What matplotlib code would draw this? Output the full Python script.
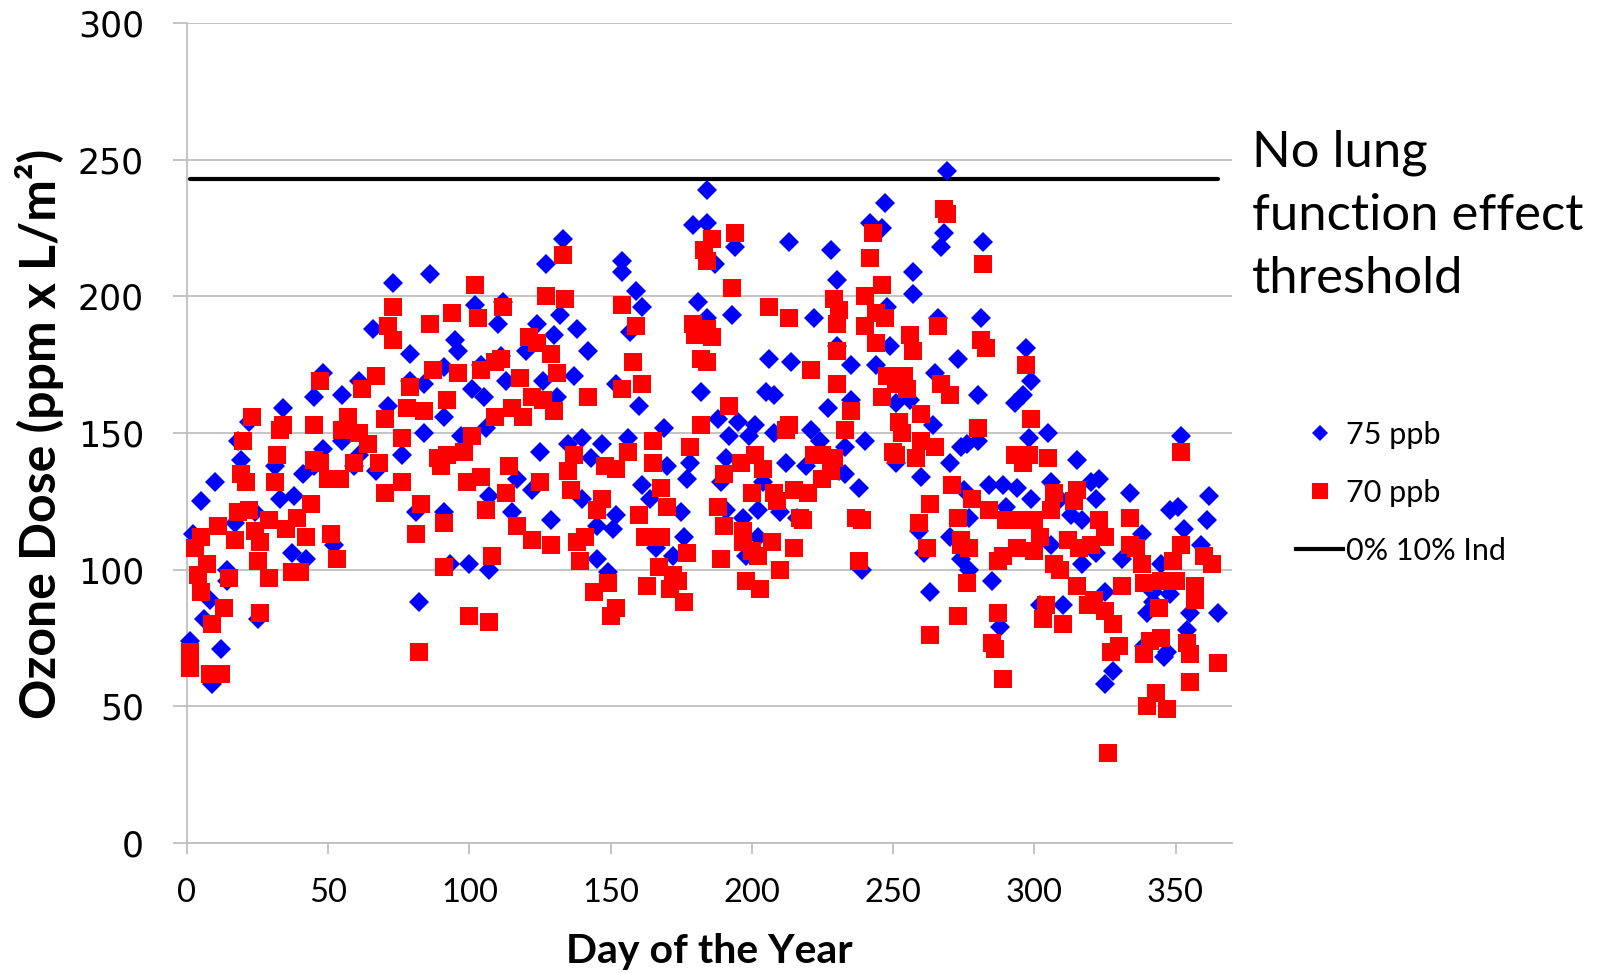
import matplotlib
matplotlib.use("Agg")
import matplotlib.pyplot as plt
from matplotlib.lines import Line2D

# Daily ozone dose, 75 ppb scenario
days_75 = [1, 2, 5, 6, 8, 9, 10, 12, 14, 14, 17, 18, 19, 22, 24, 25, 31, 33, 34, 37,
           38, 41, 42, 45, 45, 48, 48, 52, 55, 55, 59, 61, 61, 66, 67, 71, 73, 76, 79, 79,
           81, 82, 84, 84, 86, 91, 91, 91, 93, 95, 96, 97, 100, 101, 102, 104, 105, 106, 107, 107,
           110, 111, 112, 113, 115, 117, 120, 122, 124, 125, 126, 127, 129, 130, 131, 132, 133, 135, 137, 138,
           140, 140, 142, 143, 145, 145, 147, 149, 151, 152, 152, 154, 154, 156, 157, 159, 160, 161, 161, 164,
           166, 169, 170, 172, 175, 176, 177, 178, 179, 181, 182, 184, 184, 184, 187, 188, 189, 191, 191, 192,
           193, 194, 195, 197, 198, 199, 201, 202, 202, 204, 205, 206, 208, 208, 210, 212, 213, 214, 216, 219,
           221, 222, 224, 227, 228, 230, 231, 230, 233, 233, 235, 235, 238, 239, 240, 242, 244, 246, 247, 248,
           249, 251, 251, 256, 257, 257, 259, 260, 261, 263, 264, 265, 266, 267, 268, 269, 270, 270, 273, 274,
           274, 275, 276, 277, 277, 280, 280, 281, 282, 284, 285, 288, 289, 290, 293, 294, 296, 297, 298, 299,
           299, 302, 305, 306, 306, 309, 310, 313, 315, 317, 317, 320, 322, 322, 323, 325, 325, 328, 331, 334,
           338, 339, 340, 342, 342, 345, 346, 347, 348, 348, 351, 352, 353, 354, 355, 359, 361, 362, 365]
dose_75 = [74, 113, 125, 82, 89, 58, 132, 71, 100, 96, 117, 147, 140, 154, 121, 82, 138, 126, 159, 106,
           127, 135, 104, 163, 138, 172, 144, 109, 164, 147, 138, 169, 142, 188, 136, 160, 205, 142, 179, 169,
           121, 88, 168, 150, 208, 174, 121, 156, 102, 184, 180, 149, 102, 166, 197, 175, 163, 152, 100, 127,
           190, 178, 198, 169, 121, 133, 180, 129, 190, 143, 169, 212, 118, 186, 163, 193, 221, 146, 171, 188,
           148, 126, 180, 141, 116, 104, 146, 99, 115, 168, 120, 213, 209, 148, 187, 202, 160, 196, 131, 126,
           108, 152, 138, 105, 121, 112, 133, 139, 226, 198, 165, 239, 227, 192, 212, 155, 132, 141, 122, 149,
           193, 218, 154, 119, 105, 149, 153, 122, 112, 132, 165, 177, 150, 164, 121, 139, 220, 176, 119, 138,
           151, 192, 147, 159, 217, 206, 136, 182, 145, 135, 175, 162, 130, 100, 147, 227, 175, 225, 234, 196,
           182, 161, 139, 162, 201, 209, 114, 134, 106, 92, 153, 172, 192, 218, 223, 246, 139, 112, 177, 145,
           104, 129, 146, 119, 100, 164, 147, 192, 220, 131, 96, 79, 131, 123, 161, 130, 164, 181, 148, 169,
           126, 87, 150, 132, 109, 126, 87, 120, 140, 118, 102, 132, 126, 106, 133, 92, 58, 63, 104, 128,
           113, 72, 84, 92, 88, 102, 68, 70, 122, 91, 123, 149, 115, 78, 84, 109, 118, 127, 84]

# Daily ozone dose, 70 ppb scenario
days_70 = [1, 1, 3, 4, 5, 5, 7, 8, 9, 11, 12, 13, 15, 17, 18, 19, 20, 21, 22, 23,
           24, 25, 26, 26, 29, 29, 31, 32, 33, 34, 35, 37, 39, 40, 42, 44, 45, 45, 47, 47,
           50, 51, 53, 54, 55, 57, 59, 61, 62, 64, 67, 68, 70, 70, 71, 73, 73, 76, 76, 78,
           79, 81, 82, 83, 84, 86, 87, 89, 90, 91, 91, 92, 92, 94, 96, 98, 99, 100, 101, 102,
           103, 104, 104, 106, 107, 108, 109, 109, 111, 112, 113, 114, 115, 117, 118, 119, 121, 122, 122, 124,
           125, 126, 127, 129, 129, 130, 131, 133, 134, 135, 136, 137, 138, 139, 141, 142, 144, 145, 147, 148,
           149, 150, 152, 152, 154, 154, 156, 158, 159, 160, 161, 162, 163, 165, 165, 167, 168, 168, 170, 171,
           172, 174, 176, 177, 178, 179, 180, 182, 182, 183, 184, 186, 184, 186, 184, 188, 189, 190, 190, 192,
           193, 194, 196, 197, 197, 198, 200, 200, 201, 202, 203, 204, 206, 207, 208, 209, 210, 212, 213, 213,
           215, 215, 217, 218, 220, 221, 222, 225, 225, 228, 229, 229, 231, 230, 230, 230, 233, 235, 237, 238,
           239, 240, 240, 242, 243, 244, 244, 246, 246, 247, 248, 250, 251, 251, 252, 253, 254, 255, 256, 257,
           258, 259, 260, 260, 262, 263, 263, 265, 266, 267, 268, 269, 270, 271, 273, 273, 274, 274, 276, 277,
           278, 280, 281, 282, 283, 284, 285, 286, 287, 287, 289, 289, 290, 293, 294, 295, 296, 297, 298, 299,
           300, 300, 302, 303, 304, 305, 306, 307, 307, 309, 310, 312, 314, 315, 315, 316, 319, 320, 321, 323,
           325, 325, 326, 327, 328, 330, 331, 334, 334, 336, 338, 339, 339, 340, 341, 343, 344, 345, 345, 347,
           349, 350, 352, 352, 354, 355, 355, 357, 357, 360, 363, 365]
dose_70 = [70, 64, 108, 98, 112, 92, 102, 62, 80, 116, 62, 86, 97, 111, 121, 135, 147, 132, 122, 156,
           114, 103, 110, 84, 97, 118, 132, 142, 151, 153, 115, 99, 119, 99, 112, 124, 153, 140, 169, 139,
           133, 113, 104, 133, 151, 156, 139, 150, 166, 146, 171, 139, 128, 155, 189, 196, 184, 148, 132, 159,
           167, 113, 70, 124, 158, 190, 173, 141, 138, 117, 101, 162, 142, 194, 172, 143, 132, 83, 149, 204,
           192, 173, 134, 122, 81, 105, 176, 156, 177, 196, 128, 138, 159, 116, 170, 156, 185, 163, 111, 183,
           132, 162, 200, 179, 109, 158, 172, 215, 199, 136, 129, 142, 110, 103, 112, 163, 92, 122, 126, 138,
           95, 83, 86, 137, 197, 166, 143, 176, 189, 120, 168, 112, 94, 147, 139, 101, 130, 112, 123, 93,
           98, 96, 88, 106, 145, 190, 186, 177, 153, 217, 213, 221, 188, 185, 176, 123, 104, 116, 135, 160,
           203, 223, 139, 114, 110, 96, 128, 107, 142, 105, 93, 137, 196, 110, 128, 125, 100, 151, 153, 192,
           129, 108, 119, 118, 128, 173, 142, 142, 133, 136, 199, 141, 195, 190, 180, 168, 151, 158, 119, 103,
           118, 200, 189, 214, 223, 194, 183, 163, 204, 192, 171, 143, 142, 168, 154, 150, 171, 166, 186, 180,
           141, 117, 147, 157, 108, 124, 76, 145, 189, 168, 232, 230, 164, 131, 119, 83, 111, 109, 95, 108,
           126, 152, 184, 212, 181, 122, 73, 71, 103, 84, 105, 60, 118, 142, 108, 118, 139, 175, 142, 155,
           118, 107, 112, 82, 87, 141, 122, 128, 102, 100, 80, 111, 125, 129, 94, 108, 87, 109, 89, 118,
           112, 85, 33, 70, 80, 72, 94, 119, 109, 108, 102, 95, 69, 50, 74, 55, 86, 75, 96, 49,
           103, 96, 143, 109, 73, 69, 59, 94, 89, 105, 102, 66]

# No-effect threshold series
threshold_days = [1, 365]
threshold_dose = [243, 243]

x_ticks = [0, 50, 100, 150, 200, 250, 300, 350]
y_ticks = [0, 50, 100, 150, 200, 250, 300]
series_labels = ["75 ppb", "70 ppb", "0% 10% Ind"]
note_lines = ["No lung", "function effect", "threshold"]

W, H = 1602, 973
fig = plt.figure(figsize=(W / 100, H / 100), dpi=100)
ax = fig.add_axes([187 / W, 1 - 843 / H, (1232 - 187) / W, (843 - 23) / H])
ax.set_xlim(0, 370)
ax.set_ylim(0, 300)

grid_color = "#bfbfbf"
ax.set_xticks(x_ticks, labels=[str(t) for t in x_ticks], fontfamily="Lato", fontsize=23.5)
ax.set_yticks(y_ticks, labels=[str(t) for t in y_ticks], fontfamily="DejaVu Sans", fontsize=25)
ax.yaxis.grid(True, color=grid_color, lw=1.3)
ax.set_axisbelow(True)
for side in ["top", "right"]:
    ax.spines[side].set_visible(False)
for side in ["left", "bottom"]:
    ax.spines[side].set_color(grid_color)
    ax.spines[side].set_linewidth(1.3)
ax.tick_params(axis="y", length=10, width=1.3, color=grid_color, pad=21)
ax.tick_params(axis="x", length=8, width=1.3, color=grid_color, pad=17)

ax.plot(threshold_days, threshold_dose, color="black", lw=3, zorder=3,
        solid_capstyle="round")
ax.plot(days_75, dose_75, ls="none", marker="D", ms=10, color="#0000ff",
        mew=0, zorder=4, clip_on=False)
ax.plot(days_70, dose_70, ls="none", marker="s", ms=13, color="#ff0000",
        mew=0, zorder=5, clip_on=False)

handles = [
    Line2D([], [], ls="none", marker="D", ms=8.5, color="#0000ff", mew=0),
    Line2D([], [], ls="none", marker="s", ms=11.5, color="#ff0000", mew=0),
    Line2D([], [], color="black", lw=3),
]
ax.legend(handles, series_labels, loc="center left",
          bbox_to_anchor=(1296 / W, 1 - 493 / H), bbox_transform=fig.transFigure,
          frameon=False, borderpad=0, borderaxespad=0, handlelength=1.55,
          handletextpad=0.1, labelspacing=0.98,
          prop={"family": "Lato", "size": 22})

for line, base in zip(note_lines, [167, 230, 293]):
    fig.text(1252 / W, 1 - base / H, line, family="Lato", fontsize=36.5,
             ha="left", va="baseline")

fig.text(40 / W, 1 - 434 / H, "Ozone Dose (ppm x L/m²)", rotation=90,
         ha="center", va="center", family="Lato", weight="bold", fontsize=36)
fig.text(709 / W, 1 - 951 / H, "Day of the Year", ha="center", va="center",
         family="Lato", weight="bold", fontsize=29.5)

fig.savefig("out.png", dpi=100)
